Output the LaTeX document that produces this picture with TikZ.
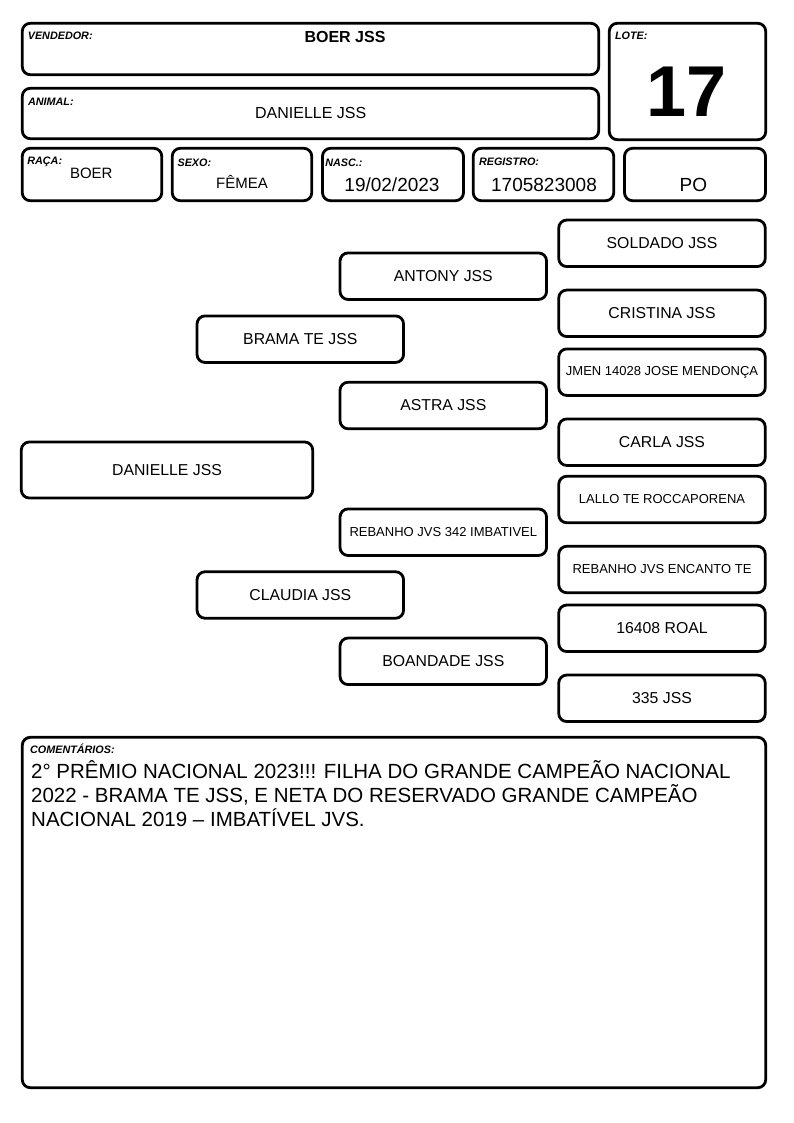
\documentclass[tikz,border=0pt]{standalone}
\usepackage{fontspec}
\setmainfont{Liberation Sans}
\usepackage{tikz}
\usetikzlibrary{positioning}
\tikzset{
    caixa/.style={draw=black, line width=2.8pt, rounded corners=8pt, inner sep=0pt},
    ped/.style={caixa, minimum width=206.5pt, minimum height=46.5pt,
        font=\fontsize{15.8}{18}\selectfont},
    pedsmall/.style={ped, font=\fontsize{13}{15}\selectfont},
    rotulo/.style={anchor=base west, inner sep=0pt,
        font=\fontsize{10.8}{12}\selectfont\bfseries\itshape},
    valor/.style={anchor=base, inner sep=0pt, font=\fontsize{15}{18}\selectfont},
    valorbig/.style={valor, font=\fontsize{19}{22}\selectfont},
}

\begin{document}
\begin{tikzpicture}[x=1pt, y=-1pt]
	\useasboundingbox (0,0) rectangle (794,1123);
	% cabecalho
	\node[caixa, minimum width=576.4pt, minimum height=51.4pt] (vendedor) at (310.5,49) {};
	\node[caixa, minimum width=576.4pt, minimum height=50.4pt] (animal) at (310.5,113.5) {};
	\node[caixa, minimum width=156.4pt, minimum height=116.4pt] (lote) at (687.5,81.5) {};
	\node[caixa, minimum width=139.5pt, minimum height=52.4pt] (raca) at (92,174.5) {};
	\node[caixa, minimum width=139.5pt, minimum height=52.4pt] (sexo) at (242,174.5) {};
	\node[caixa, minimum width=141pt, minimum height=52.4pt] (nasc) at (393,174.5) {};
	\node[caixa, minimum width=140.5pt, minimum height=52.4pt] (registro) at (543.5,174.5) {};
	\node[caixa, minimum width=141pt, minimum height=52.4pt] (po) at (695,174.5) {};
	\node[rotulo] (lbvend) at ([shift={(6.7,18)}]vendedor.north west) {VENDEDOR:};
	\node[rotulo] (lbanim) at ([shift={(7,18.4)}]animal.north west) {ANIMAL:};
	\node[rotulo] (lblote) at ([shift={(7,18)}]lote.north west) {LOTE:};
	\node[rotulo] (lbraca) at ([shift={(6.3,17.4)}]raca.north west) {RAÇA:};
	\node[rotulo] (lbsexo) at ([shift={(6.5,19.7)}]sexo.north west) {SEXO:};
	\node[rotulo] (lbnasc) at ([shift={(4,19.7)}]nasc.north west) {NASC.:};
	\node[rotulo] (lbreg) at ([shift={(7,19)}]registro.north west) {REGISTRO:};
	\node[valor, font=\fontsize{16}{18}\selectfont\bfseries] (vvend) at (345,42.3) {BOER JSS};
	\node[valor, font=\fontsize{16}{18}\selectfont] (vanim) at (310.7,118.3) {DANIELLE JSS};
	\node[valor, font=\fontsize{72}{80}\selectfont\bfseries] (vlote) at (687,116.7) {17};
	\node[valor] (vraca) at (91.3,178.3) {BOER};
	\node[valor] (vsexo) at (242,189) {FÊMEA};
	\node[valorbig] (vnasc) at (392,191.7) {19/02/2023};
	\node[valorbig] (vreg) at (544,191.7) {1705823008};
	\node[valorbig] (vpo) at (693.3,191.7) {PO};
	% genealogia
	\node[caixa, minimum width=291.4pt, minimum height=56pt,
		font=\fontsize{15.8}{18}\selectfont] (danielle) at (167,470) {DANIELLE JSS};
	\node[ped] (brama) at (300.3,339.2) {BRAMA TE JSS};
	\node[ped] (claudia) at (300.3,595) {CLAUDIA JSS};
	\node[ped] (antony) at (443.3,276.2) {ANTONY JSS};
	\node[ped] (astra) at (443.3,405.5) {ASTRA JSS};
	\node[pedsmall] (rebanho) at (443.3,532.2) {REBANHO JVS 342 IMBATIVEL};
	\node[ped] (boandade) at (443.3,661.3) {BOANDADE JSS};
	\node[ped] (soldado) at (662,243.3) {SOLDADO JSS};
	\node[ped] (cristina) at (662,313.3) {CRISTINA JSS};
	\node[pedsmall] (jmen) at (662,372.2) {JMEN 14028 JOSE MENDONÇA};
	\node[ped] (carla) at (662,442.2) {CARLA JSS};
	\node[pedsmall] (lallo) at (662,499.5) {LALLO TE ROCCAPORENA};
	\node[pedsmall] (encanto) at (662,569.5) {REBANHO JVS ENCANTO TE};
	\node[ped] (roal) at (662,628.3) {16408 ROAL};
	\node[ped] (jss) at (662,698.3) {335 JSS};
	% comentarios
	\node[caixa, minimum width=743.4pt, minimum height=350.4pt] (coment) at (394,912.5) {};
	\node[rotulo] (lbcom) at ([shift={(9,17.4)}]coment.north west) {COMENTÁRIOS:};
	\node[anchor=base west, inner sep=0pt, align=left, font=\fontsize{20.5}{24}\selectfont] (textocom) at (31,826)
		{2° PRÊMIO NACIONAL 2023!!! FILHA DO GRANDE CAMPEÃO NACIONAL\\
		2022 - BRAMA TE JSS, E NETA DO RESERVADO GRANDE CAMPEÃO\\
		NACIONAL 2019 – IMBATÍVEL JVS.};
\end{tikzpicture}
\end{document}
